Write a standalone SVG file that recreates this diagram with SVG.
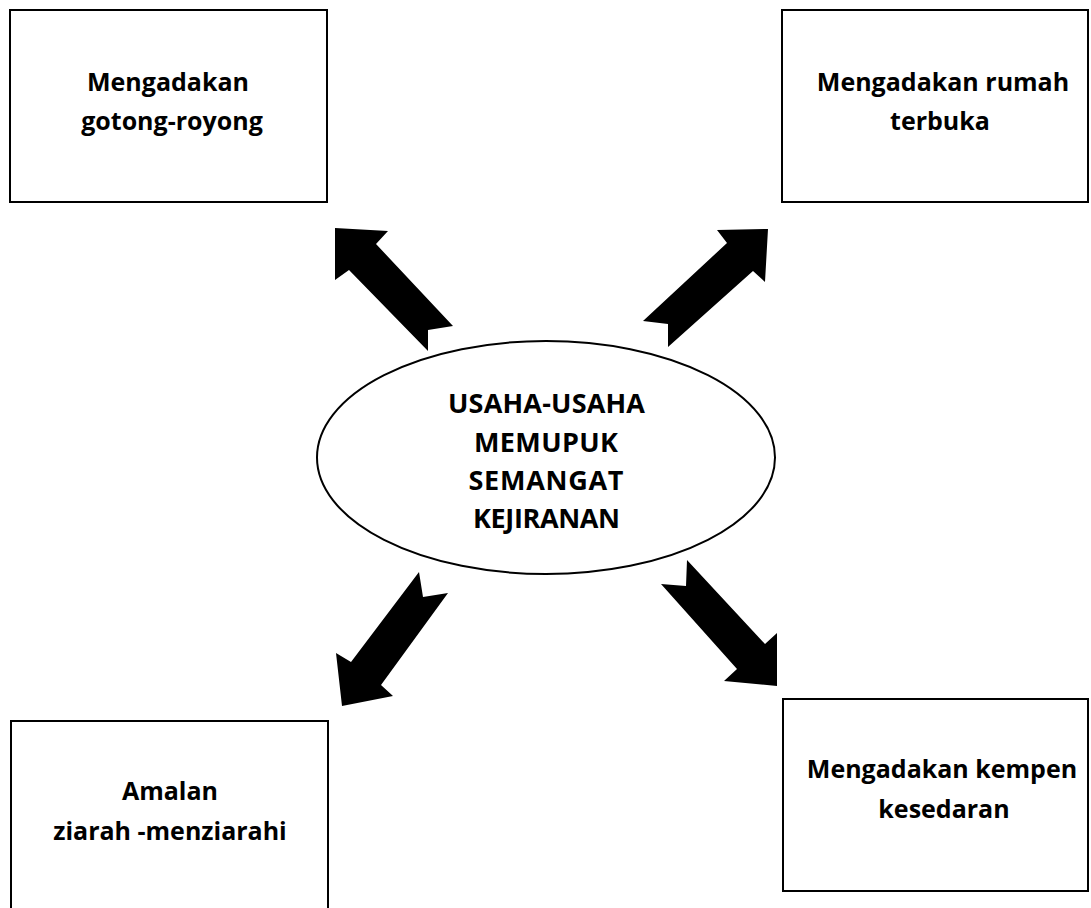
<svg xmlns="http://www.w3.org/2000/svg" width="1091" height="908" viewBox="0 0 1091 908">
<style>
.box{fill:#fff;stroke:#000;stroke-width:2}
.t{font-family:"Open Sans","Liberation Sans",sans-serif;font-weight:bold;font-size:25px;fill:#000;text-anchor:middle}
.c{font-size:27px}
.arr{fill:#000;stroke:none}
</style>
<rect width="1091" height="908" fill="#fff"/>
<g id="connectors">
<polygon class="arr" points="335,228 388,231 376,244 453,326 428,330 428,351 349,270 335,280"/>
<polygon class="arr" points="768,229 765,282 753,271 668,347 668,324 643,321 727,243 717,230"/>
<polygon class="arr" points="342,706 393,696 381,685 448,593 423,597 419,572 351,662 336,653"/>
<polygon class="arr" points="777,686 724,681 737,669 661,584 686,586 687,560 765,644 777,633"/>
</g>
<g id="center">
<ellipse class="box" cx="546" cy="457.5" rx="229" ry="116.5"/>
<text class="t c" x="546.5" y="413" textLength="197" lengthAdjust="spacing">USAHA-USAHA</text>
<text class="t c" x="546" y="452" textLength="144" lengthAdjust="spacing">MEMUPUK</text>
<text class="t c" x="546" y="490" textLength="155" lengthAdjust="spacing">SEMANGAT</text>
<text class="t c" x="546.5" y="528" textLength="147" lengthAdjust="spacing">KEJIRANAN</text>
</g>
<g id="gotong">
<rect class="box" x="10" y="10" width="317" height="192"/>
<text class="t" x="168" y="91">Mengadakan</text>
<text class="t" x="172" y="130">gotong-royong</text>
</g>
<g id="rumah">
<rect class="box" x="782" y="10" width="306" height="192"/>
<text class="t" x="943" y="91">Mengadakan rumah</text>
<text class="t" x="940" y="130">terbuka</text>
</g>
<g id="ziarah">
<rect class="box" x="11" y="721" width="317" height="200"/>
<text class="t" x="170" y="800">Amalan</text>
<text class="t" x="170" y="840">ziarah -menziarahi</text>
</g>
<g id="kempen">
<rect class="box" x="783" y="699" width="305" height="192"/>
<text class="t" x="942" y="778">Mengadakan kempen</text>
<text class="t" x="944" y="818">kesedaran</text>
</g>
</svg>
